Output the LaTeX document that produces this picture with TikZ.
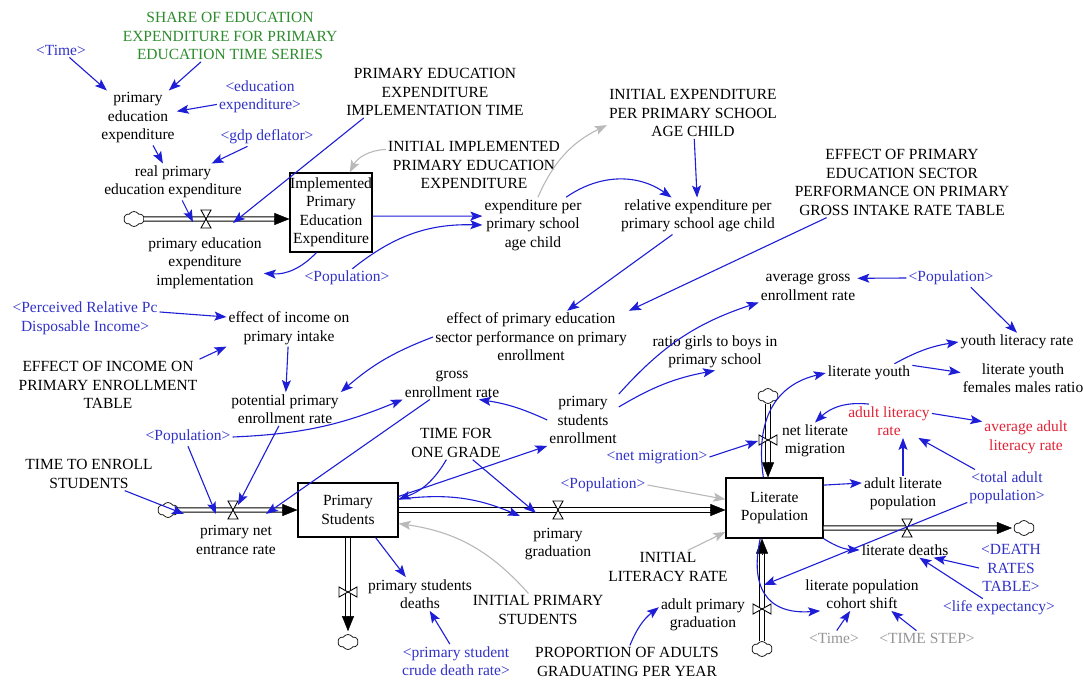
\documentclass[tikz,border=0pt]{standalone}
\usepackage{fontspec}
\setmainfont{Liberation Serif}
\usetikzlibrary{arrows.meta,shapes.symbols,calc}
\newcommand\dgfont{\fontsize{15.5}{18.5}\selectfont}
\definecolor{lkblue}{RGB}{30,30,215}
\definecolor{shblue}{RGB}{50,50,200}
\definecolor{grn}{RGB}{45,140,45}
\definecolor{redv}{RGB}{225,35,55}
\definecolor{gtext}{RGB}{150,150,150}
\definecolor{garrow}{RGB}{185,185,185}
\tikzset{
  v/.style={align=center, inner sep=2pt, font=\dgfont, text=black},
  sh/.style={v, text=shblue},
  gt/.style={v, text=gtext},
  rd/.style={v, text=redv},
  stock/.style={draw=black, line width=1.2pt, align=center, inner sep=0pt, font=\dgfont, fill=white},
  lk/.style={draw=lkblue, line width=1.1pt, -{Stealth[length=12pt,width=9pt,inset=2.5pt]}},
  glk/.style={lk, draw=garrow},
  pipe/.style={draw=black, line width=1pt, double=white, double distance=3.2pt},
  pipetip/.style={draw=black, line width=0.4pt, -{Triangle[length=15pt,width=12pt]}},
  cloudn/.style={cloud, draw, cloud puffs=6, cloud puff arc=120, aspect=1.3, minimum width=20pt, minimum height=15pt, inner sep=0pt, fill=white, line width=0.7pt},
  valveh/.pic={\draw[line width=0.9pt, fill=white] (-5,9) -- (5,9) -- (-5,-9) -- (5,-9) -- cycle;},
  valvev/.pic={\draw[line width=0.9pt, fill=white] (-9,5) -- (-9,-5) -- (9,5) -- (9,-5) -- cycle;}
}
\begin{document}
\begin{tikzpicture}[x=1pt,y=1pt]
\useasboundingbox[fill=white] (0,0) rectangle (1083,-682);

% ---------- variables ----------
\node[v, text=grn] (share) at (230,-36) {SHARE OF EDUCATION\\EXPENDITURE FOR PRIMARY\\EDUCATION TIME SERIES};
\node[sh] (timeA) at (61,-50) {<Time>};
\node[v] (pee) at (138,-118) {primary\\education\\expenditure};
\node[sh] (eduexp) at (260,-97) {<education\\expenditure>};
\node[sh] (gdp) at (267,-137) {<gdp deflator>};
\node[v] (rpee) at (173,-182) {real primary\\education expenditure};
\node[v] (peei) at (205,-263) {primary education\\expenditure\\implementation};
\node[stock, minimum width=82pt, minimum height=79pt] (ipee) at (331,-212.5) {Implemented\\Primary\\Education\\Expenditure};
\node[v] (peit) at (435,-92) {PRIMARY EDUCATION\\EXPENDITURE\\IMPLEMENTATION TIME};
\node[v] (iipee) at (474,-165) {INITIAL IMPLEMENTED\\PRIMARY EDUCATION\\EXPENDITURE};
\node[v] (iepc) at (693,-113) {INITIAL EXPENDITURE\\PER PRIMARY SCHOOL\\AGE CHILD};
\node[v] (epc) at (533,-225) {expenditure per\\primary school\\age child};
\node[v] (repc) at (698,-216) {relative expenditure per\\primary school age child};
\node[v] (epestable) at (902,-182.5) {EFFECT OF PRIMARY\\EDUCATION SECTOR\\PERFORMANCE ON PRIMARY\\GROSS INTAKE RATE TABLE};
\node[sh] (popA) at (347,-278) {<Population>};
\node[sh] (perc) at (85,-318.5) {<Perceived Relative Pc\\Disposable Income>};
\node[v] (eii) at (289,-328) {effect of income on\\primary intake};
\node[v] (eiitable) at (108,-385) {EFFECT OF INCOME ON\\PRIMARY ENROLLMENT\\TABLE};
\node[v] (epes) at (531,-337) {effect of primary education\\sector performance on primary\\enrollment};
\node[v] (ppe) at (285,-409) {potential primary\\enrollment rate};
\node[v] (ger) at (452,-384) {gross\\enrollment rate};
\node[v] (ager) at (808,-287) {average gross\\enrollment rate};
\node[sh] (popR) at (951,-278) {<Population>};
\node[v] (rgb) at (715,-352) {ratio girls to boys in\\primary school};
\node[v] (ylr) at (1017,-342) {youth literacy rate};
\node[v] (ly) at (869,-373) {literate youth};
\node[v] (lyr) at (1023,-378) {literate youth\\females males ratio};
\node[rd] (alr) at (889,-421) {adult literacy\\rate};
\node[rd] (aalr) at (1026,-437.5) {average adult\\literacy rate};
\node[v] (nlm) at (815,-441) {net literate\\migration};
\node[v] (pse) at (583,-420) {primary\\students\\enrollment};
\node[sh] (popL) at (188,-437) {<Population>};
\node[v] (tfog) at (456,-443) {TIME FOR\\ONE GRADE};
\node[sh] (netmig) at (657,-457) {<net migration>};
\node[v] (tte) at (89,-474) {TIME TO ENROLL\\STUDENTS};
\node[sh] (popM) at (603,-485) {<Population>};
\node[sh] (tap) at (1007,-488) {<total adult\\population>};
\node[stock, minimum width=100pt, minimum height=54pt] (ps) at (348,-510) {Primary\\Students};
\node[v] (pner) at (236,-540) {primary net\\entrance rate};
\node[v] (pg) at (558,-544) {primary\\graduation};
\node[stock, minimum width=97pt, minimum height=60pt] (lp) at (774.5,-508) {Literate\\Population};
\node[v] (alp) at (903,-494) {adult literate\\population};
\node[v] (ld) at (905,-550) {literate deaths};
\node[sh] (drt) at (1011,-568) {<DEATH\\RATES\\TABLE>};
\node[sh] (le) at (999,-608) {<life expectancy>};
\node[v] (lpcs) at (862,-594) {literate population\\cohort shift};
\node[gt] (timeB) at (834,-638) {<Time>};
\node[gt] (tstep) at (927,-638) {<TIME STEP>};
\node[v] (apg) at (703,-615) {adult primary\\graduation};
\node[v] (pagpy) at (627,-662) {PROPORTION OF ADULTS\\GRADUATING PER YEAR};
\node[v] (ilr) at (668,-567) {INITIAL\\LITERACY RATE};
\node[v] (ips) at (538,-610) {INITIAL PRIMARY\\STUDENTS};
\node[v] (psd) at (420,-594) {primary students\\deaths};
\node[sh] (pscdr) at (456,-661) {<primary student\\crude death rate>};

% ---------- clouds ----------
\node[cloudn] (cloud1) at (134,-219) {};
\node[cloudn] (cloud2) at (168,-510) {};
\node[cloudn] (cloud3) at (768,-396) {};
\node[cloudn] (cloud5) at (1024,-528) {};
\node[cloudn] (cloud6) at (762,-649) {};
\node[cloudn] (cloud7) at (348,-642) {};

% ---------- valves ----------
\coordinate (valve1) at (206,-219);
\coordinate (valve2) at (233,-510);
\coordinate (valve4) at (558,-510);
\coordinate (valve7) at (348,-592);
\coordinate (valve3) at (768,-440);
\coordinate (valve5) at (907,-528);
\coordinate (valve6) at (762,-609);

% ---------- pipes ----------
\draw[pipe, shorten >=14pt] (cloud1.east) -- (cloud1 -| ipee.west);
\draw[pipetip] ($(cloud1 -| ipee.west)+(-15,0)$) -- (cloud1 -| ipee.west);
\draw[pipe, shorten >=14pt] (cloud2.east) -- (cloud2 -| ps.west);
\draw[pipetip] ($(cloud2 -| ps.west)+(-15,0)$) -- (cloud2 -| ps.west);
\draw[pipe, shorten >=14pt] (ps.east) -- (ps.east -| lp.west);
\draw[pipetip] ($(ps.east -| lp.west)+(-15,0)$) -- (ps.east -| lp.west);
\draw[pipe, shorten >=17pt] (ps.south) -- (cloud7.north);
\draw[pipetip] ($(cloud7.north)+(0,18)$) -- ($(cloud7.north)+(0,3)$);
\draw[pipe, shorten >=14pt] (cloud3.south) -- (cloud3.south |- lp.north);
\draw[pipetip] ($(cloud3.south |- lp.north)+(0,15)$) -- (cloud3.south |- lp.north);
\draw[pipe, shorten >=16pt] (lp.east |- cloud5) -- (cloud5.west);
\draw[pipetip] ($(cloud5.west)+(-17,0)$) -- ($(cloud5.west)+(-2,0)$);
\draw[pipe, shorten >=14pt] (cloud6.north) -- (cloud6.north |- lp.south);
\draw[pipetip] ($(cloud6.north |- lp.south)+(0,-15)$) -- (cloud6.north |- lp.south);

\pic at (valve1) {valveh};
\pic at (valve2) {valveh};
\pic at (valve4) {valveh};
\pic at (valve5) {valveh};
\pic at (valve7) {valvev};
\pic at (valve3) {valvev};
\pic at (valve6) {valvev};

% ---------- link end points on pipes ----------
\coordinate (v1a) at (193,-222);
\coordinate (v1b) at (233,-223);
\coordinate (v2l) at (184,-514);
\coordinate (v2p) at (216,-514);
\coordinate (v2m) at (238,-505);
\coordinate (v2r) at (266,-514);
\coordinate (v4a) at (536,-513);
\coordinate (v4b) at (520,-516);
\coordinate (v3w) at (758,-441);
\coordinate (v6a) at (764,-585);

% ---------- links ----------
\draw[lk] (timeA) -- (pee);
\draw[lk] (share) -- (pee);
\draw[lk] (eduexp) -- (pee);
\draw[lk] (pee) -- (rpee);
\draw[lk] (gdp) -- (rpee);
\draw[lk] (rpee) -- (v1a);
\draw[lk] (peit.200) -- (v1b);
\draw[lk] (ipee.250) to[bend left=25] (peei.-10);
\draw[glk] (iipee.170) to[bend right=30] (ipee.65);
\draw[lk] (ipee.-5) -- (epc.170);
\draw[lk] (popA.60) to[bend left=20] (epc.west);
\draw[glk] (epc.80) to[bend left=20] (iepc.188);
\draw[lk] (epc.40) to[bend left=35] (repc.145);
\draw[lk] (iepc) -- (repc);
\draw[lk] (repc) -- (epes);
\draw[lk] (epestable.205) -- (epes.north east);
\draw[lk] (epes.west) to[bend right=10] (ppe.north east);
\draw[lk] (perc.5) -- (eii.170);
\draw[lk] (eiitable.north east) -- (eii.south west);
\draw[lk] (eii) -- (ppe);
\draw[lk] (popL.east) to[bend right=10] (ger.south west);
\draw[lk] (popL.south) -- (v2p);
\draw[lk] (ppe.250) -- (v2m);
\draw[lk] (tte.-25) -- (v2l);
\draw[lk] (ger) -- (v2r);
\draw[lk] (pse.west) to[bend right=8] (ger.-30);
\draw[lk] (pse.north east) to[bend left=15] (ager.south west);
\draw[lk] (pse.20) to[bend left=10] (rgb.south);
\draw[lk] (ps.15) -- (pse.south west);
\draw[lk] (tfog.-45) -- (v4a);
\draw[lk] (tfog.-120) to[bend left=20] (ps.12);
\draw[lk] (ps.12) to[bend left=15] (v4b);
\draw[lk] (ps.-45) -- (psd.130);
\draw[lk] (pscdr.110) -- (psd.-60);
\draw[glk] (ips.120) to[bend right=20] (ps.-15);
\draw[glk] (popM.east) -- (lp.170);
\draw[glk] (ilr.40) -- (lp.-154);
\draw[lk] (netmig.east) -- (v3w);
\draw[lk] (lp.110) .. controls (755,-420) and (775,-385) .. (ly.west);
\draw[lk] (ly.20) to[bend left=10] (ylr.west);
\draw[lk] (ly.10) -- (lyr.175);
\draw[lk] (popR.-25) -- (ylr.north);
\draw[lk] (popR.west) -- (ager.10);
\draw[lk] (alr.140) to[bend right=25] (nlm.north);
\draw[lk] (alr.10) -- (aalr.160);
\draw[lk] (alp.north) -- (alp.north |- alr.south);
\draw[lk] (tap.150) -- (alr.-30);
\draw[lk] (lp.25) -- (alp.165);
\draw[lk] (tap.200) -- (v6a);
\draw[lk] (lp.south east) to[bend right=15] (ld.west);
\draw[lk] (lp.-115) .. controls (750,-585) and (765,-615) .. (lpcs.-158);
\draw[lk] (timeB.70) -- (lpcs.-125);
\draw[lk] (tstep.145) -- (lpcs.-30);
\draw[lk] (drt.west) -- (ld.-15);
\draw[lk] (le.150) -- (ld.-28);
\draw[lk] (pagpy.80) to[bend left=15] (apg.170);
\end{tikzpicture}
\end{document}
